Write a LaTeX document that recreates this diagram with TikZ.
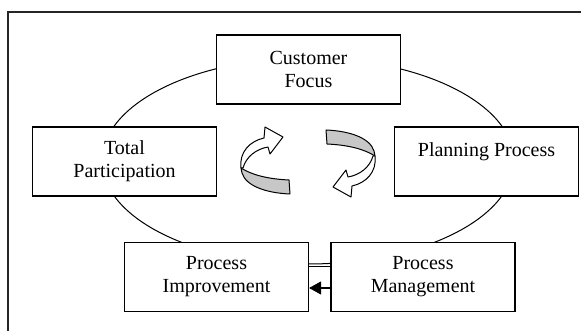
\documentclass[tikz,border=0pt]{standalone}
\usepackage{fontspec}
\setmainfont{Liberation Serif}
\usetikzlibrary{arrows.meta}
\newcommand{\ribbonarrow}{%
  \path[band, fill=black!22] (241,168) .. controls (252,175) and (268,179) .. (289,180)
    -- (290,194) .. controls (266,193) and (246,186) .. (242,173) -- cycle;
  \path[band, fill=white] (241,168) .. controls (239,152) and (250,141) .. (264,138)
    -- (265,127) -- (283,137) -- (270,154) -- (268,147)
    .. controls (256,149) and (246,157) .. (243,168) -- cycle;
}
\begin{document}
\begin{tikzpicture}[x=1pt,y=-1pt]
  \tikzstyle{box}=[draw, line width=1.2pt, fill=white, minimum width=184pt, minimum height=69pt, align=center, inner sep=0pt, font=\fontsize{20}{23}\selectfont]
  \tikzstyle{band}=[draw, line width=1pt, line join=round]
  \useasboundingbox (0,0) rectangle (581,331);
  \clip (0,0) rectangle (581,331);
  \draw[line width=1.5pt, black!85] (8,12) rectangle (600,350);
  \draw[line width=1pt] (308,161) ellipse [x radius=206pt, y radius=103pt];
  \node[box] (c) at (308.5,69.5) {Customer\\Focus};
  \node[box] (t) at (124.5,161.5) {Total\\Participation};
  \node[box] (p) at (486.5,161.5) {Planning Process\\\mbox{}};
  \node[box] (i) at (216.5,277) {Process\\Improvement};
  \node[box] (m) at (423,277) {Process\\Management};
  \draw[line width=1.2pt] ([yshift=10.5pt]m.west) -- ([yshift=10.5pt]i.east);
  \draw[line width=1.2pt, -{Triangle[length=12pt,width=13pt]}] ([yshift=-11pt]m.west) -- ([yshift=-11pt]i.east);
  \ribbonarrow
  \begin{scope}[rotate around={180:(308,162)}]
    \ribbonarrow
  \end{scope}
\end{tikzpicture}
\end{document}
